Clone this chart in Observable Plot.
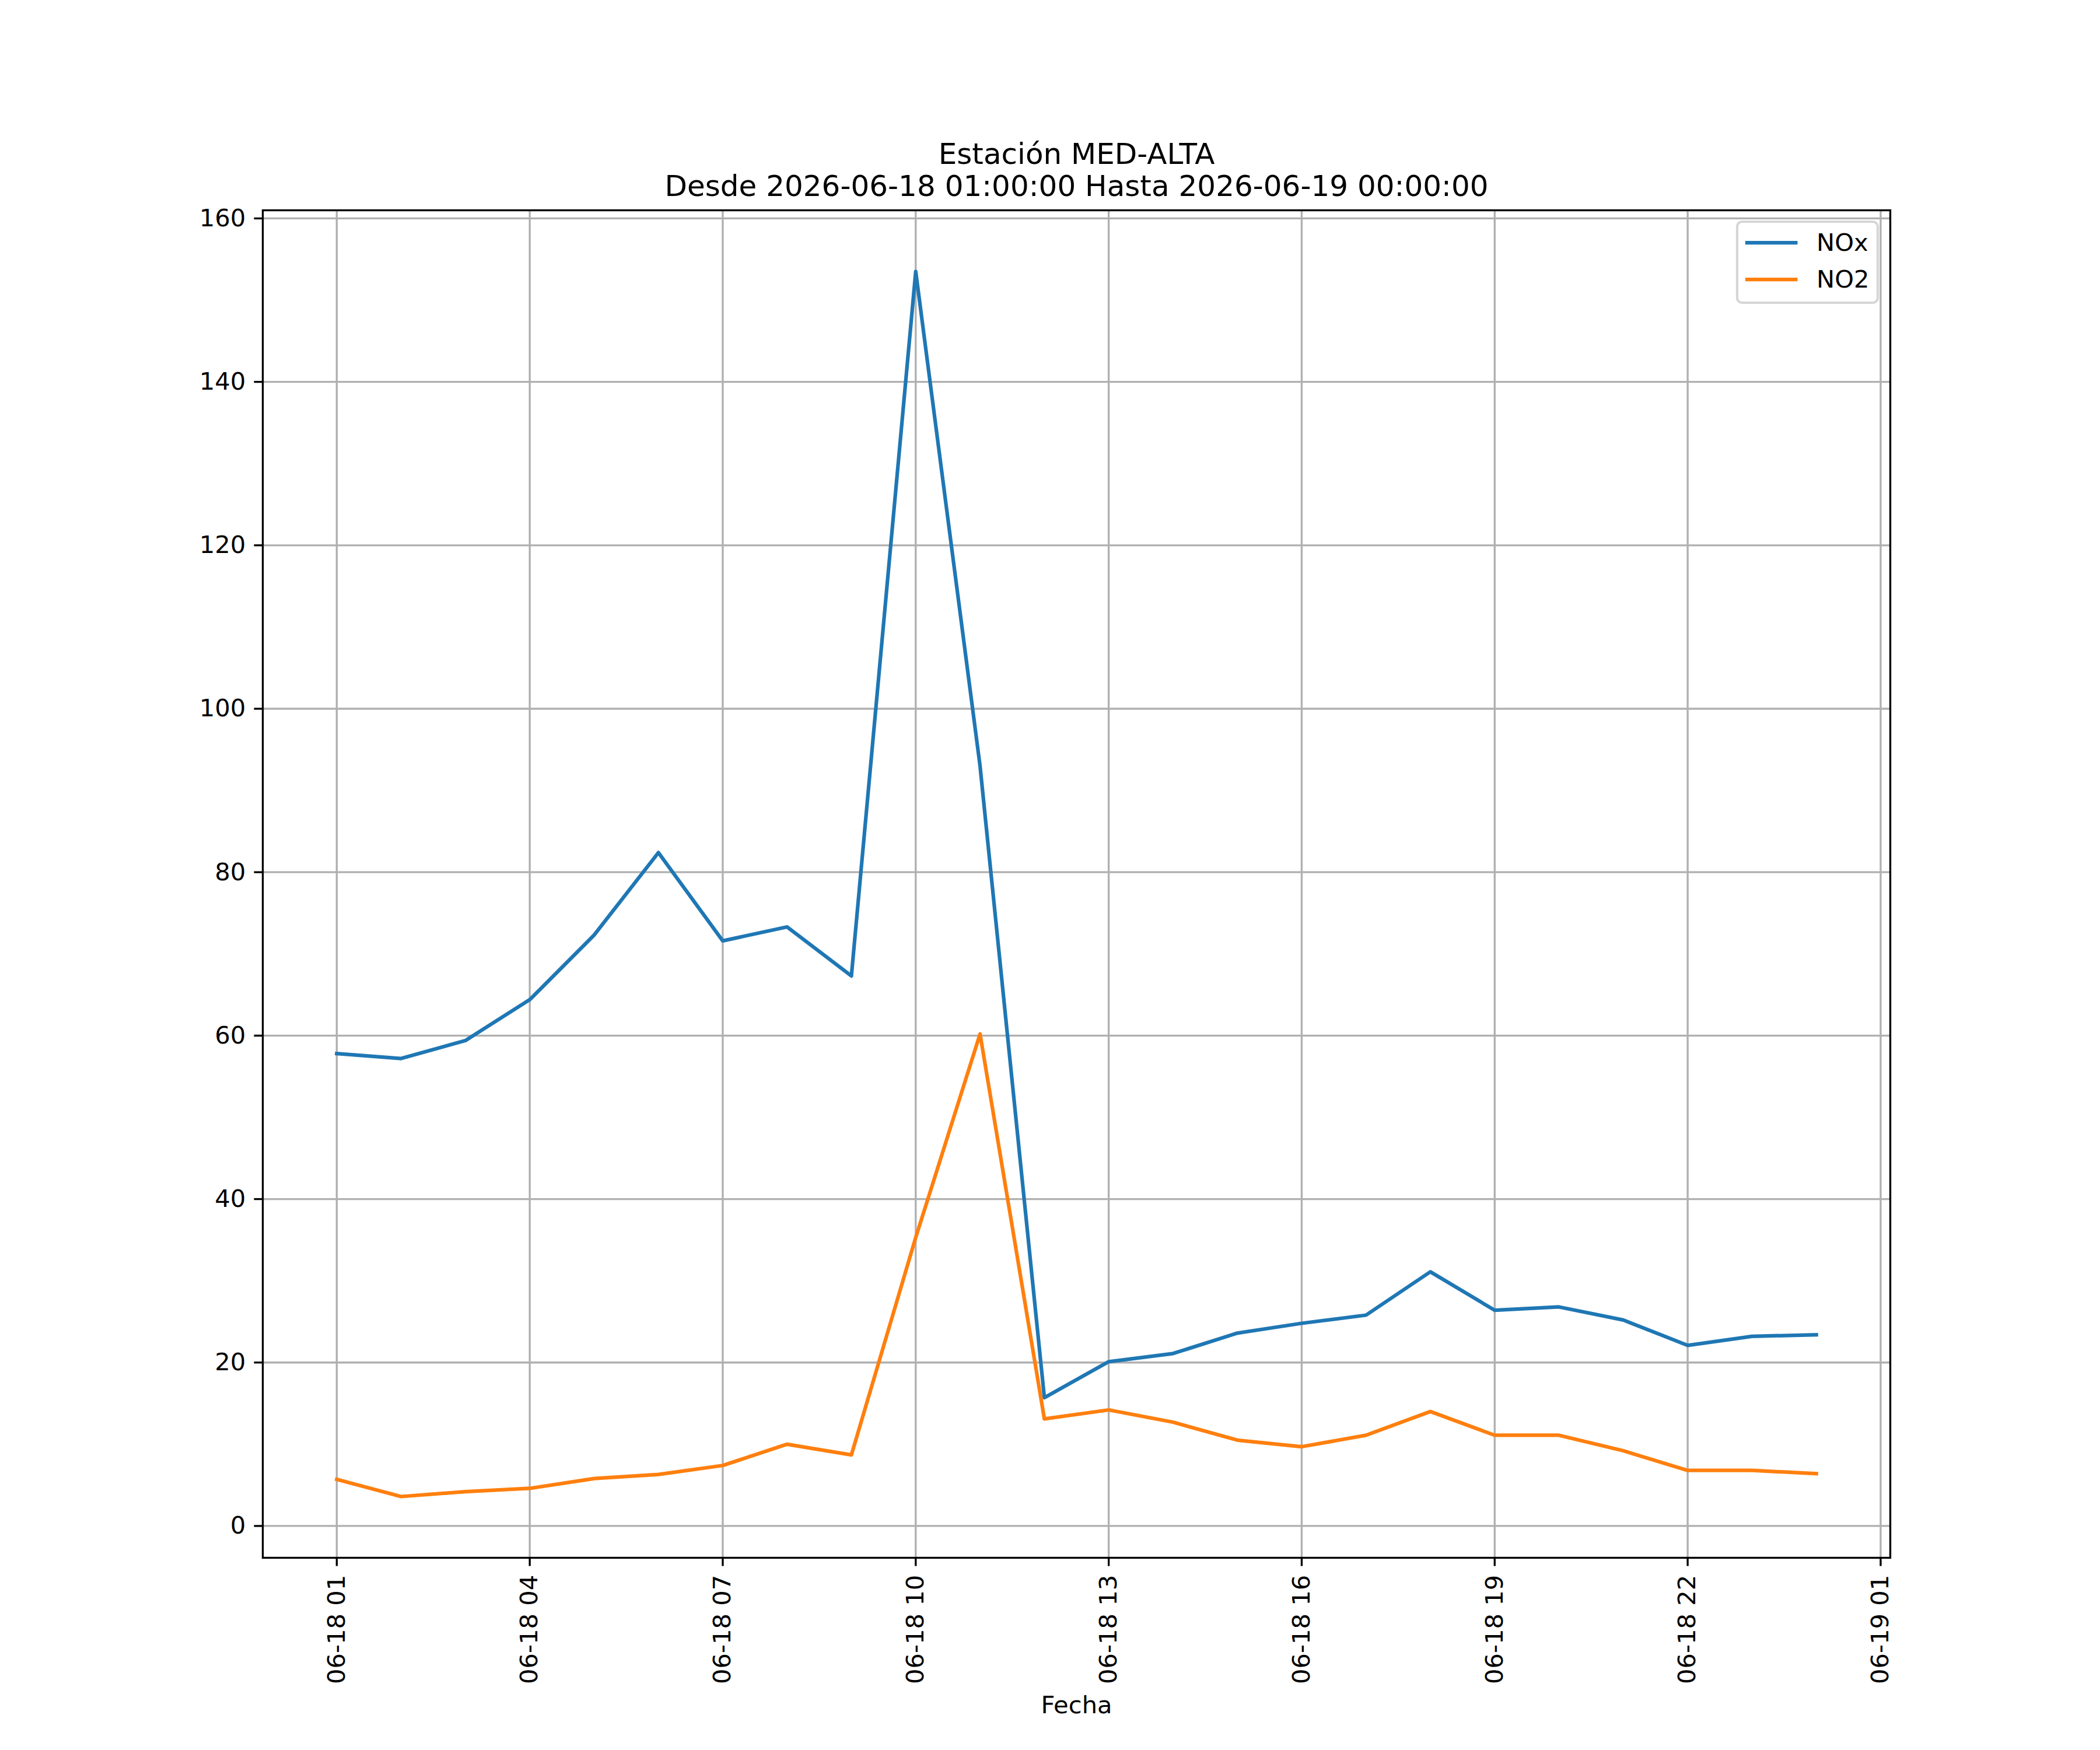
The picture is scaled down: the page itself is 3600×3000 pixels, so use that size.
<!DOCTYPE html>
<html>
<head>
<meta charset="utf-8">
<script src="https://cdn.jsdelivr.net/npm/d3@7"></script>
<script src="https://cdn.jsdelivr.net/npm/@observablehq/plot@0.6"></script>
<style>
  html, body { margin: 0; padding: 0; background: #ffffff; }
  #chart { width: 3600px; height: 3000px; }
</style>
</head>
<body>
<div id="chart"></div>
<script>
// ---- data ----
const times = [
  "2026-06-18T01:00:00Z", "2026-06-18T02:00:00Z", "2026-06-18T03:00:00Z", "2026-06-18T04:00:00Z",
  "2026-06-18T05:00:00Z", "2026-06-18T06:00:00Z", "2026-06-18T07:00:00Z", "2026-06-18T08:00:00Z",
  "2026-06-18T09:00:00Z", "2026-06-18T10:00:00Z", "2026-06-18T11:00:00Z", "2026-06-18T12:00:00Z",
  "2026-06-18T13:00:00Z", "2026-06-18T14:00:00Z", "2026-06-18T15:00:00Z", "2026-06-18T16:00:00Z",
  "2026-06-18T17:00:00Z", "2026-06-18T18:00:00Z", "2026-06-18T19:00:00Z", "2026-06-18T20:00:00Z",
  "2026-06-18T21:00:00Z", "2026-06-18T22:00:00Z", "2026-06-18T23:00:00Z", "2026-06-19T00:00:00Z"
];
const noxValues = [57.8, 57.2, 59.4, 64.4, 72.3, 82.4, 71.6, 73.3, 67.3, 153.5, 93.0, 15.7,
                   20.1, 21.1, 23.6, 24.8, 25.8, 31.1, 26.4, 26.8, 25.2, 22.1, 23.2, 23.4];
const no2Values = [5.7, 3.6, 4.2, 4.6, 5.8, 6.3, 7.4, 10.0, 8.7, 35.3, 60.2, 13.1,
                   14.2, 12.7, 10.5, 9.7, 11.1, 14.0, 11.1, 11.1, 9.2, 6.8, 6.8, 6.4];
const seriesNames = ["NOx", "NO2"];
const seriesColors = ["#1f77b4", "#ff7f0e"];
const yTicks = [0, 20, 40, 60, 80, 100, 120, 140, 160];
const xTickTimes = [
  "2026-06-18T01:00:00Z", "2026-06-18T04:00:00Z", "2026-06-18T07:00:00Z", "2026-06-18T10:00:00Z",
  "2026-06-18T13:00:00Z", "2026-06-18T16:00:00Z", "2026-06-18T19:00:00Z", "2026-06-18T22:00:00Z",
  "2026-06-19T01:00:00Z"
];
const titleText = "Estación MED-ALTA\nDesde 2026-06-18 01:00:00 Hasta 2026-06-19 00:00:00";
const xLabelText = "Fecha";

// ---- build table ----
const dates = times.map(t => new Date(t));
const xTicks = xTickTimes.map(t => new Date(t));
const seriesValues = [noxValues, no2Values];
const data = [];
seriesNames.forEach((name, s) => {
  dates.forEach((d, i) => data.push({time: d, value: seriesValues[s][i], series: name}));
});

// matplotlib-like 5% margins
const [t0, t1] = d3.extent(dates);
const tPad = (t1 - t0) * 0.05;
const xDomain = [new Date(+t0 - tPad), new Date(+t1 + tPad)];
const [v0, v1] = d3.extent(data, d => d.value);
const vPad = (v1 - v0) * 0.05;
const yDomain = [v0 - vPad, v1 + vPad];

// ---- styles (matplotlib 12x10 in @ 300 dpi) ----
const pt = 300 / 72;
const fontSize = 10 * pt;
const gridW = 0.8 * pt;
const lineW = 1.5 * pt;
const tickLen = 3.5 * pt;
const tickPad = 3.5 * pt;

const W = 3600, H = 3000;
const mL = 450, mR = 360, mT = 360, mB = 330;

const plot = Plot.plot({
  width: W,
  height: H,
  marginLeft: mL,
  marginRight: mR,
  marginTop: mT,
  marginBottom: mB,
  style: {fontFamily: "DejaVu Sans", fontSize: `${fontSize}px`, background: "#ffffff", color: "#000000", overflow: "visible"},
  x: {type: "utc", domain: xDomain},
  y: {domain: yDomain},
  color: {domain: seriesNames, range: seriesColors},
  marks: [
    Plot.gridX(xTicks, {stroke: "#b0b0b0", strokeOpacity: 1, strokeWidth: gridW}),
    Plot.gridY(yTicks, {stroke: "#b0b0b0", strokeOpacity: 1, strokeWidth: gridW}),
    Plot.line(data, {
      x: "time", y: "value", z: "series", stroke: "series",
      strokeWidth: lineW, strokeLinejoin: "round", strokeLinecap: "square"
    }),
    Plot.frame({stroke: "#000000", strokeWidth: gridW}),
    Plot.axisX(xTicks, {
      tickSize: tickLen, tickPadding: tickPad, tickRotate: -90,
      textAnchor: "end", lineAnchor: "middle",
      tickFormat: d3.utcFormat("%m-%d %H"), fontSize: fontSize,
      strokeWidth: gridW, label: null
    }),
    Plot.axisY(yTicks, {
      tickSize: tickLen, tickPadding: tickPad, fontSize: fontSize,
      strokeWidth: gridW, label: null, tickFormat: d => String(d)
    }),
    Plot.text([xLabelText], {frameAnchor: "bottom", lineAnchor: "bottom", dy: 266, fontSize: fontSize, fill: "#000000"}),
    Plot.text([titleText], {frameAnchor: "top", lineAnchor: "bottom", dy: -25, lineHeight: 1.1, fontSize: 12 * pt, fill: "#000000"})
  ]
});

// ---- legend (upper right, matplotlib style) ----
const svg = d3.select(plot);
const lg = svg.append("g").attr("class", "legend").attr("text-anchor", "start");
const boxX = 2978, boxY = 380, boxW = 241, boxH = 139;
lg.append("rect")
  .attr("x", boxX).attr("y", boxY).attr("width", boxW).attr("height", boxH)
  .attr("rx", 0.2 * fontSize).attr("ry", 0.2 * fontSize)
  .attr("fill", "#ffffff").attr("fill-opacity", 0.8)
  .attr("stroke", "#cccccc").attr("stroke-opacity", 0.8).attr("stroke-width", 1 * pt);
seriesNames.forEach((name, i) => {
  const cy = 416 + i * 63;
  lg.append("line")
    .attr("x1", 2995).attr("x2", 2995 + 2 * fontSize)
    .attr("y1", cy).attr("y2", cy)
    .attr("stroke", seriesColors[i]).attr("stroke-width", lineW).attr("stroke-linecap", "square");
  lg.append("text")
    .attr("x", 3114).attr("y", cy + 14)
    .attr("text-anchor", "start")
    .attr("font-family", "DejaVu Sans").attr("font-size", `${fontSize}px`).attr("fill", "#000000")
    .text(name);
});

document.getElementById("chart").appendChild(plot);
</script>
</body>
</html>
